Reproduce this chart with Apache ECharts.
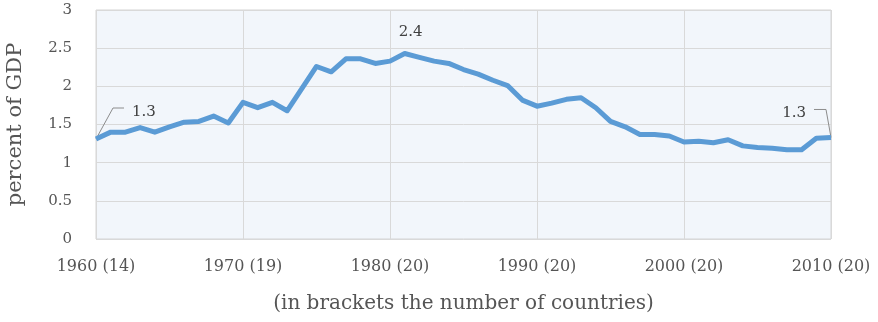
<!DOCTYPE html>
<html>
<head>
<meta charset="utf-8">
<script src="https://cdn.jsdelivr.net/npm/echarts@6/dist/echarts.min.js"></script>
<style>html,body{margin:0;padding:0;background:#fff}#c{width:878px;height:322px}</style>
</head>
<body>
<div id="c"></div>
<script>
const years = [1960,1961,1962,1963,1964,1965,1966,1967,1968,1969,1970,1971,1972,1973,1974,1975,1976,1977,1978,1979,1980,1981,1982,1983,1984,1985,1986,1987,1988,1989,1990,1991,1992,1993,1994,1995,1996,1997,1998,1999,2000,2001,2002,2003,2004,2005,2006,2007,2008,2009,2010];
const values = [1.31,1.40,1.40,1.46,1.40,1.47,1.53,1.54,1.61,1.52,1.79,1.72,1.79,1.68,1.97,2.26,2.19,2.36,2.36,2.30,2.33,2.43,2.38,2.33,2.30,2.22,2.16,2.08,2.01,1.82,1.74,1.78,1.83,1.85,1.72,1.54,1.47,1.37,1.37,1.35,1.27,1.28,1.26,1.30,1.22,1.20,1.19,1.17,1.17,1.32,1.33];
const tickYears = [1960,1970,1980,1990,2000,2010];
const tickLabels = ["1960 (14)","1970 (19)","1980 (20)","1990 (20)","2000 (20)","2010 (20)"];
const annotations = [
  {year:1960, text:"1.3"},
  {year:1981, text:"2.4"},
  {year:2010, text:"1.3"}
];
const yName = "percent of GDP";
const xName = "(in brackets the number of countries)";

const FONT = '"DejaVu Serif", "Liberation Serif", serif';
const TXT = '#555555';
const chart = echarts.init(document.getElementById('c'), null, {renderer:'canvas'});
const data = years.map((y,i)=>[y, values[i]]);
chart.setOption({
  animation:false,
  grid:{left:96,right:47,top:10,bottom:83,containLabel:false,outerBoundsMode:'none',show:true,backgroundColor:'#F2F6FB',borderColor:'#d4d4d4',borderWidth:1},
  xAxis:{type:'value',min:1960,max:2010,interval:10,
    name:xName,nameLocation:'middle',nameGap:55,
    nameTextStyle:{fontFamily:FONT,fontSize:20,color:TXT},
    axisLine:{show:false},axisTick:{show:false},
    axisLabel:{fontFamily:FONT,fontSize:16,color:TXT,margin:20,
      formatter:v=>{const i=tickYears.indexOf(v);return i>=0?tickLabels[i]:'';}},
    splitLine:{show:true,lineStyle:{color:'#d9d9d9',width:1}}},
  yAxis:{type:'value',min:0,max:3,interval:0.5,
    name:yName,nameLocation:'middle',nameGap:70,
    nameTextStyle:{fontFamily:FONT,fontSize:21,color:TXT},
    axisLine:{show:false},axisTick:{show:false},
    axisLabel:{fontFamily:FONT,fontSize:15,color:TXT,margin:24},
    splitLine:{show:true,lineStyle:{color:'#d9d9d9',width:1}}},
  series:[{type:'line',data:data,symbol:'none',
    lineStyle:{color:'#5B9BD5',width:5,join:'round'}}]
});

function px(year){const i=years.indexOf(year);return chart.convertToPixel({gridIndex:0},[year,values[i]]);}
const g=[];
const lineStyle={stroke:'#8c8c8c',lineWidth:1,fill:null};
const textStyle=(t,x,y,align)=>({type:'text',style:{text:t,x:x,y:y,fontFamily:FONT,fontSize:15,fill:'#404040',align:align,verticalAlign:'middle'}});
// first
let p=px(annotations[0].year);
g.push({type:'polyline',shape:{points:[[p[0],p[1]],[p[0]+17,p[1]-31],[p[0]+28,p[1]-31]]},style:lineStyle});
g.push(textStyle(annotations[0].text,p[0]+36,p[1]-27,'left'));
// peak
p=px(annotations[1].year);
g.push(textStyle(annotations[1].text,p[0]+6,p[1]-21,'center'));
// last
p=px(annotations[2].year);
g.push({type:'polyline',shape:{points:[[p[0],p[1]],[p[0]-5,p[1]-28],[p[0]-17,p[1]-28]]},style:lineStyle});
g.push(textStyle(annotations[2].text,p[0]-25,p[1]-24,'right'));
chart.setOption({graphic:g});
</script>
</body>
</html>
